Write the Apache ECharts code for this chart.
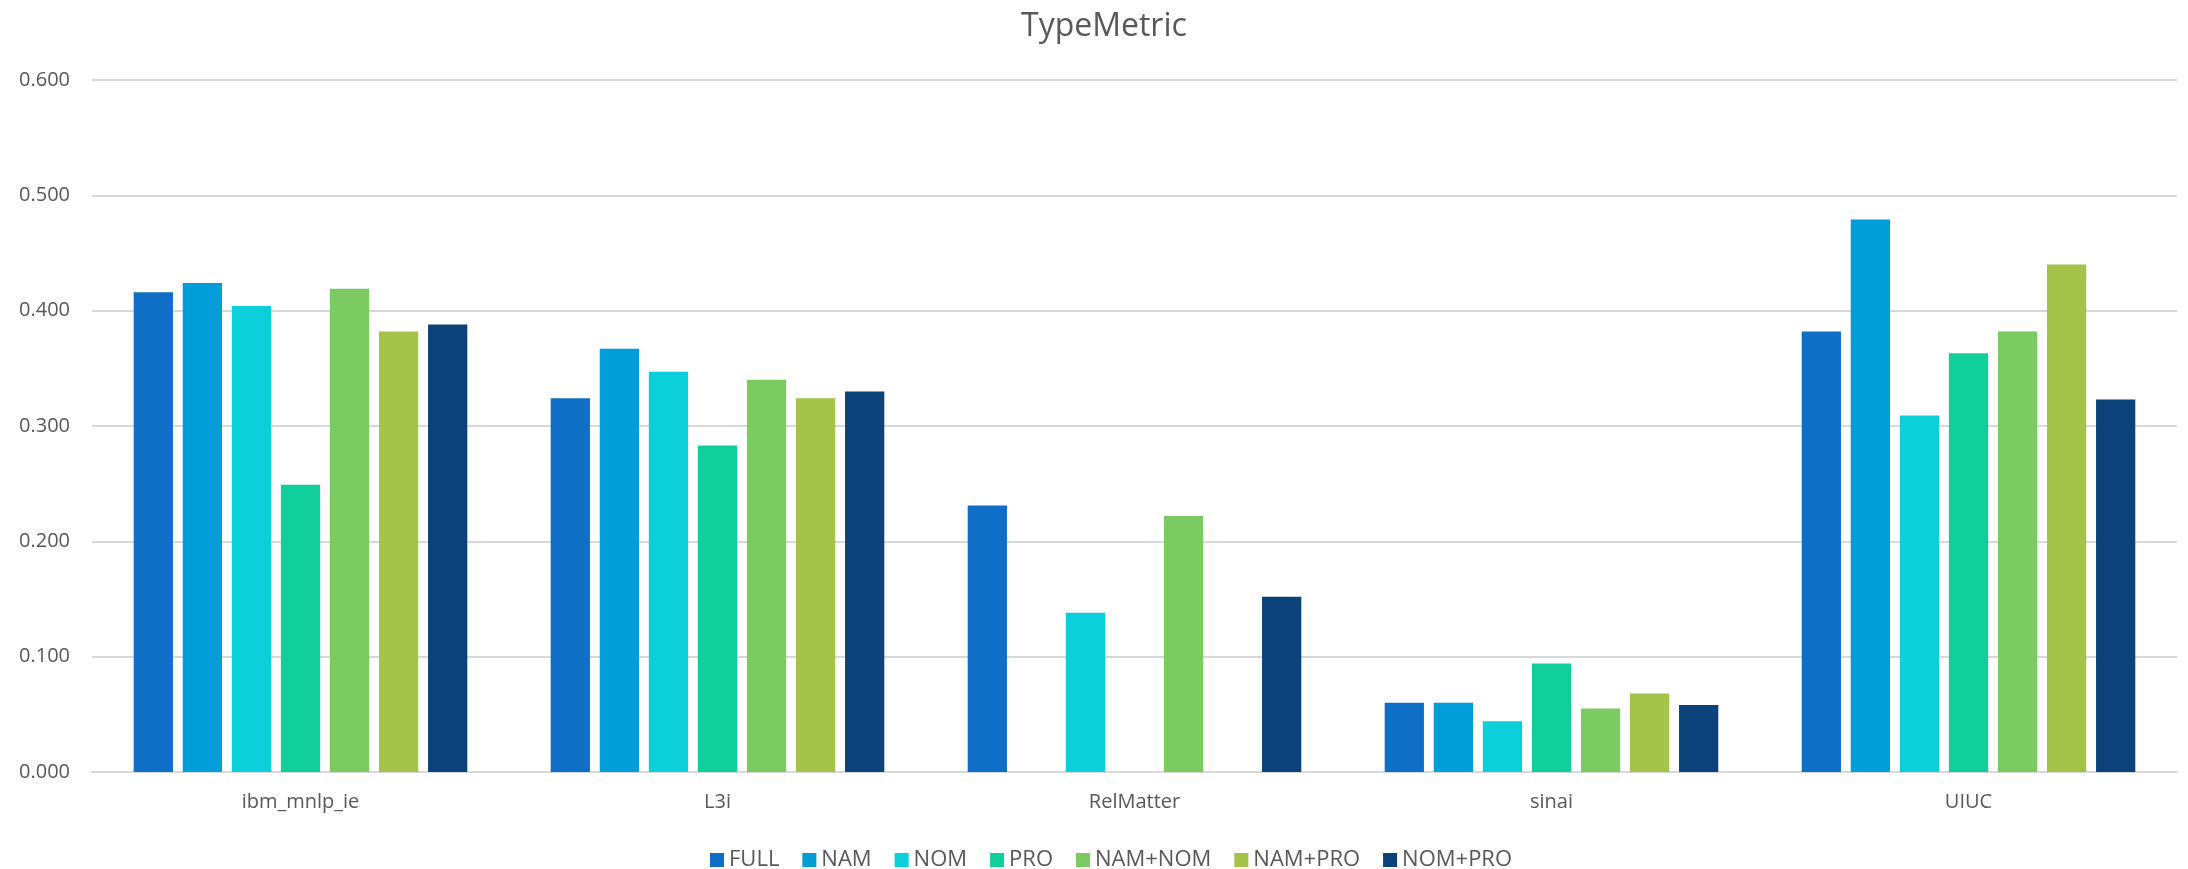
<!DOCTYPE html>
<html>
<head>
<meta charset="utf-8">
<script src="https://cdn.jsdelivr.net/npm/echarts@6/dist/echarts.min.js"></script>
<style>
html,body{margin:0;padding:0;background:#fff;}
#chart{width:2188px;height:869px;}
</style>
</head>
<body>
<div id="chart"></div>
<script>
const titleText = 'TypeMetric';
const categories = ['ibm_mnlp_ie', 'L3i', 'RelMatter', 'sinai', 'UIUC'];
const seriesNames = ['FULL', 'NAM', 'NOM', 'PRO', 'NAM+NOM', 'NAM+PRO', 'NOM+PRO'];
const FULL     = [0.416, 0.324, 0.231, 0.060, 0.382];
const NAM      = [0.424, 0.367, 0,     0.060, 0.479];
const NOM      = [0.404, 0.347, 0.138, 0.044, 0.309];
const PRO      = [0.249, 0.283, 0,     0.094, 0.363];
const NAM_NOM  = [0.419, 0.340, 0.222, 0.055, 0.382];
const NAM_PRO  = [0.382, 0.324, 0,     0.068, 0.440];
const NOM_PRO  = [0.388, 0.330, 0.152, 0.058, 0.323];
const seriesValues = [FULL, NAM, NOM, PRO, NAM_NOM, NAM_PRO, NOM_PRO];
const colors = ['#0F6FC6', '#009DD9', '#0BD0D9', '#10CF9B', '#7CCA62', '#A5C249', '#0B4279'];

const font = '"Open Sans", "Noto Sans", sans-serif';
const textColor = '#595959';

const chart = echarts.init(document.getElementById('chart'), null, {renderer: 'canvas'});
chart.setOption({
  animation: false,
  backgroundColor: '#ffffff',
  color: colors,
  title: {
    text: titleText,
    left: 1016,
    top: 6,
    textStyle: {fontFamily: font, fontSize: 32, fontWeight: 'normal', color: textColor}
  },
  legend: {
    data: seriesNames,
    icon: 'rect',
    left: 705,
    top: 844,
    itemWidth: 14,
    itemHeight: 14,
    itemGap: 23,
    itemTextGap: 6,
    itemStyle: {borderWidth: 0},
    textStyle: {fontFamily: font, fontSize: 22, color: textColor}
  },
  grid: {left: 92, right: 11, top: 80, bottom: 97, containLabel: false},
  xAxis: {
    type: 'category',
    data: categories,
    axisLine: {show: true, lineStyle: {color: '#d9d9d9', width: 2}},
    axisTick: {show: false},
    axisLabel: {fontFamily: font, fontSize: 20, color: textColor, margin: 20}
  },
  yAxis: {
    type: 'value',
    min: 0,
    max: 0.6,
    interval: 0.1,
    axisLine: {show: false},
    axisTick: {show: false},
    splitLine: {lineStyle: {color: '#d9d9d9', width: 2}},
    axisLabel: {
      fontFamily: font, fontSize: 20, color: textColor, margin: 22,
      formatter: v => v.toFixed(3)
    }
  },
  series: seriesNames.map((name, i) => ({
    name: name,
    type: 'bar',
    data: seriesValues[i],
    barGap: '25%',
    barCategoryGap: '20%',
    itemStyle: {color: colors[i]}
  }))
});
</script>
</body>
</html>
